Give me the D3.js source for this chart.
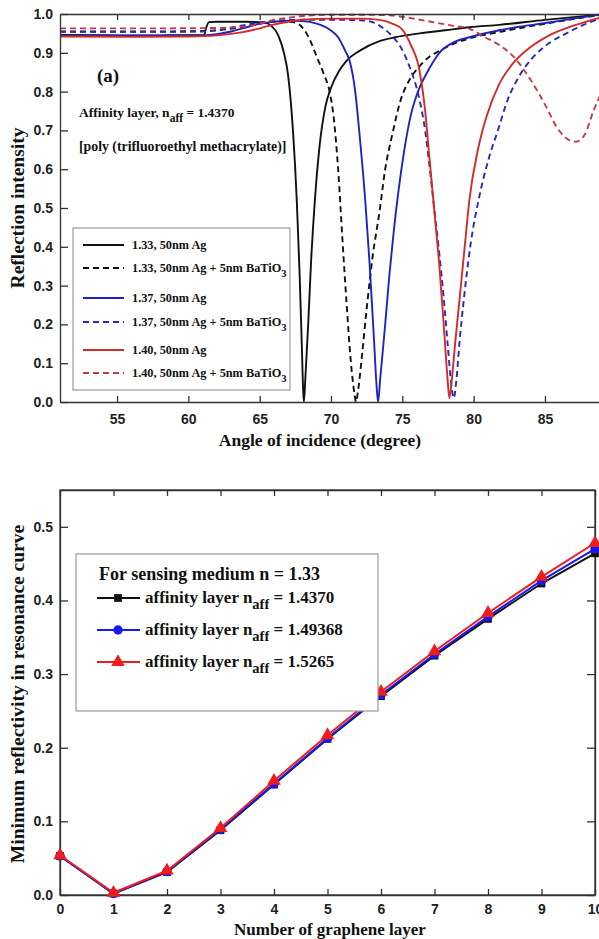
<!DOCTYPE html>
<html>
<head>
<meta charset="utf-8">
<script src="https://cdn.jsdelivr.net/npm/d3@7"></script>
<style>
  body { margin: 0; background: #fff; }
  svg { display: block; }
  .tick text { font-family: "Liberation Sans", Arial, sans-serif; font-weight: bold; font-size: 14px; fill: #222; }
  .serif { font-family: "Liberation Serif", "Times New Roman", serif; font-weight: bold; fill: #111; }
</style>
</head>
<body>
<svg width="599" height="939"></svg>
<script>
// ---- panel (a): reflection curves, [angle, R] ----
var s133 = [[51,0.946],[55,0.945],[58,0.945],[61.1,0.946],[61.25,0.965],[61.45,0.979],[62,0.98],[64,0.98],[65.3,0.978],[65.8,0.97],[66.3,0.945],[66.7,0.9],[67.0,0.84],[67.35,0.69],[67.6,0.52],[67.8,0.33],[67.95,0.15],[68.05,0.03],[68.1,0.0],[68.2,0.06],[68.4,0.2],[68.6,0.36],[68.87,0.52],[69.2,0.66],[69.6,0.76],[70.0,0.81],[70.6,0.855],[71.1,0.88],[72,0.905],[73.4,0.93],[74.5,0.94],[76.2,0.95],[78,0.958],[79.7,0.966],[81.8,0.972],[85,0.985],[89,0.999]];
var d133 = [[51,0.955],[58,0.955],[61,0.956],[62,0.958],[63,0.962],[64,0.968],[65,0.975],[66,0.98],[67,0.98],[67.5,0.978],[68,0.965],[68.5,0.935],[69,0.89],[69.5,0.845],[69.9,0.80],[70.2,0.73],[70.5,0.6],[70.8,0.42],[71.1,0.25],[71.4,0.1],[71.65,0.02],[71.75,0.0],[71.9,0.03],[72.2,0.13],[72.5,0.24],[72.9,0.37],[73.4,0.49],[73.8,0.6],[74.3,0.69],[74.9,0.78],[75.5,0.83],[76.2,0.865],[76.9,0.89],[77.6,0.905],[78.5,0.922],[80,0.94],[82,0.955],[85,0.975],[89,0.998]];
var s137 = [[51,0.944],[58,0.944],[61,0.945],[62,0.948],[63,0.955],[64,0.965],[65,0.975],[66,0.98],[67,0.983],[68,0.982],[69,0.975],[69.9,0.96],[70.5,0.94],[71.0,0.905],[71.3,0.88],[71.7,0.8],[72.0,0.69],[72.4,0.52],[72.7,0.36],[73.0,0.17],[73.2,0.04],[73.3,0.0],[73.45,0.06],[73.8,0.2],[74.1,0.33],[74.4,0.44],[75.1,0.64],[75.6,0.74],[76.0,0.79],[76.9,0.86],[77.6,0.9],[78.5,0.925],[79.7,0.94],[81.8,0.958],[83.2,0.967],[85.3,0.978],[87,0.988],[89,0.999]];
var d137 = [[51,0.954],[58,0.954],[61,0.955],[62,0.958],[63,0.965],[64,0.972],[65,0.978],[66,0.982],[68,0.985],[70,0.985],[72,0.984],[73,0.978],[73.6,0.965],[74.1,0.95],[74.6,0.93],[75.1,0.9],[75.5,0.865],[76.2,0.78],[76.6,0.7],[76.9,0.61],[77.2,0.51],[77.6,0.38],[77.9,0.27],[78.2,0.14],[78.45,0.04],[78.6,0.01],[78.8,0.06],[79.0,0.15],[79.3,0.26],[79.8,0.41],[80.4,0.53],[81.0,0.62],[81.7,0.7],[82.4,0.78],[83.2,0.84],[84.2,0.89],[85.3,0.925],[86.5,0.95],[87.7,0.972],[89,0.99]];
var s140 = [[51,0.942],[56,0.941],[60,0.942],[62,0.945],[63.6,0.952],[65,0.963],[65.9,0.972],[67,0.98],[68,0.985],[70,0.988],[72,0.988],[73.4,0.985],[74.3,0.975],[75.0,0.96],[75.6,0.92],[76.2,0.855],[76.6,0.75],[76.9,0.63],[77.3,0.47],[77.6,0.35],[77.9,0.2],[78.15,0.07],[78.3,0.01],[78.45,0.05],[78.7,0.15],[79.0,0.26],[79.4,0.41],[79.7,0.52],[80.3,0.65],[80.9,0.735],[81.8,0.82],[82.7,0.87],[84,0.915],[85.3,0.945],[87,0.97],[89,0.992]];
var d140 = [[51,0.963],[58,0.963],[62,0.964],[64,0.968],[65,0.975],[66,0.985],[67,0.99],[68,0.995],[70,0.998],[72,0.998],[74,0.997],[75.5,0.99],[77,0.98],[78.5,0.97],[79.7,0.962],[80.8,0.94],[81.8,0.92],[82.8,0.89],[84,0.83],[85.1,0.76],[85.8,0.71],[86.5,0.68],[87.2,0.671],[87.8,0.69],[88.4,0.75],[89,0.8]];

var seriesA = [
  {label: "1.33, 50nm Ag", sub: false, data: s133, color: "#111111", dash: null},
  {label: "1.33, 50nm Ag + 5nm BaTiO", sub: true, data: d133, color: "#111111", dash: "6,4"},
  {label: "1.37, 50nm Ag", sub: false, data: s137, color: "#2222c0", dash: null},
  {label: "1.37, 50nm Ag + 5nm BaTiO", sub: true, data: d137, color: "#2a2ab8", dash: "6,4"},
  {label: "1.40, 50nm Ag", sub: false, data: s140, color: "#d42a2a", dash: null},
  {label: "1.40, 50nm Ag + 5nm BaTiO", sub: true, data: d140, color: "#c43a48", dash: "6,4"}
];
var angleTicks = [55, 60, 65, 70, 75, 80, 85];
var reflTicks = [0, 0.1, 0.2, 0.3, 0.4, 0.5, 0.6, 0.7, 0.8, 0.9, 1.0];

// ---- panel (b): minimum reflectivity vs graphene layers ----
var layers = [0, 1, 2, 3, 4, 5, 6, 7, 8, 9, 10];
var r14370 = [0.053, 0.002, 0.031, 0.088, 0.150, 0.212, 0.270, 0.325, 0.375, 0.423, 0.464];
var r149368 = [0.053, 0.002, 0.032, 0.089, 0.151, 0.213, 0.272, 0.327, 0.378, 0.427, 0.470];
var r15265 = [0.054, 0.003, 0.033, 0.091, 0.155, 0.217, 0.276, 0.331, 0.383, 0.432, 0.478];
var naffLabels = ["1.4370", "1.49368", "1.5265"];
var layerTicks = [0, 1, 2, 3, 4, 5, 6, 7, 8, 9, 10];
var minTicks = [0, 0.1, 0.2, 0.3, 0.4, 0.5];

var svg = d3.select("svg");
svg.append("rect").attr("width", 599).attr("height", 939).attr("fill", "#fff");

// ================= panel (a) =================
var xA = d3.scaleLinear().domain([51, 89]).range([60, 602]);
var yA = d3.scaleLinear().domain([0, 1]).range([402, 14]);
var gA = svg.append("g");

svg.append("clipPath").attr("id", "clipA")
  .append("rect").attr("x", 60).attr("y", 13).attr("width", 545).attr("height", 390);

var lineA = d3.line()
  .x(function(d){ return xA(d[0]); })
  .y(function(d){ return yA(d[1]); })
  .curve(d3.curveMonotoneX);

var curves = gA.append("g").attr("clip-path", "url(#clipA)");
seriesA.forEach(function(s){
  curves.append("path")
    .attr("d", lineA(s.data))
    .attr("fill", "none")
    .attr("stroke", s.color)
    .attr("stroke-width", 1.9)
    .attr("stroke-dasharray", s.dash);
});

function styleAxis(g){
  g.select(".domain").attr("stroke", "#333").attr("stroke-width", 1.3);
  g.selectAll(".tick line").attr("stroke", "#333").attr("stroke-width", 1.3);
}

gA.append("g").attr("transform", "translate(0,402)")
  .call(d3.axisBottom(xA).tickValues(angleTicks).tickSize(-6).tickPadding(12).tickSizeOuter(0))
  .call(styleAxis);
gA.append("g").attr("transform", "translate(0,14)")
  .call(d3.axisTop(xA).tickValues(angleTicks).tickSize(-6).tickFormat("").tickSizeOuter(0))
  .call(styleAxis);
gA.append("g").attr("transform", "translate(60,0)")
  .call(d3.axisLeft(yA).tickValues(reflTicks).tickSize(-8).tickPadding(7).tickFormat(d3.format(".1f")).tickSizeOuter(0))
  .call(styleAxis);

gA.append("text").attr("class", "serif").attr("x", 320).attr("y", 446)
  .attr("text-anchor", "middle").attr("font-size", 17.5).text("Angle of incidence (degree)");
gA.append("text").attr("class", "serif").attr("transform", "translate(24,208) rotate(-90)")
  .attr("text-anchor", "middle").attr("font-size", 19.5).text("Reflection intensity");

gA.append("text").attr("class", "serif").attr("x", 97).attr("y", 82).attr("font-size", 19).text("(a)");
var aff = gA.append("text").attr("class", "serif").attr("x", 79).attr("y", 117).attr("font-size", 13.5);
aff.append("tspan").text("Affinity layer, n");
aff.append("tspan").attr("dy", 5).attr("font-size", 11.5).text("aff");
aff.append("tspan").attr("dy", -5).text(" = 1.4370");
gA.append("text").attr("class", "serif").attr("x", 79).attr("y", 151).attr("font-size", 13.8)
  .text("[poly (trifluoroethyl methacrylate)]");

// legend (a)
var legA = gA.append("g");
legA.append("rect").attr("x", 73).attr("y", 228).attr("width", 217).attr("height", 162)
  .attr("fill", "#fff").attr("stroke", "#999").attr("stroke-width", 1.2);
var legRowsA = [245, 268, 298, 322, 350, 373];
seriesA.forEach(function(s, i){
  var yy = legRowsA[i];
  legA.append("line").attr("x1", 83).attr("x2", 124).attr("y1", yy).attr("y2", yy)
    .attr("stroke", s.color).attr("stroke-width", 1.9).attr("stroke-dasharray", s.dash);
  var t = legA.append("text").attr("class", "serif").attr("x", 132).attr("y", yy + 4).attr("font-size", 12.3);
  t.append("tspan").text(s.label);
  if (s.sub) t.append("tspan").attr("dy", 5).attr("font-size", 10.5).text("3");
});

// ================= panel (b) =================
var xB = d3.scaleLinear().domain([0, 10]).range([60, 595]);
var yB = d3.scaleLinear().domain([0, 0.55]).range([895, 490]);
var gB = svg.append("g");

gB.append("rect").attr("x", 60).attr("y", 490).attr("width", 535).attr("height", 405)
  .attr("fill", "none").attr("stroke", "#333").attr("stroke-width", 1.3);

gB.append("g").attr("transform", "translate(0,895)")
  .call(d3.axisBottom(xB).tickValues(layerTicks).tickSize(-6).tickPadding(9).tickFormat(d3.format("d")).tickSizeOuter(0))
  .call(styleAxis);
gB.append("g").attr("transform", "translate(0,490)")
  .call(d3.axisTop(xB).tickValues(layerTicks).tickSize(-6).tickFormat("").tickSizeOuter(0))
  .call(styleAxis);
gB.append("g").attr("transform", "translate(60,0)")
  .call(d3.axisLeft(yB).tickValues(minTicks).tickSize(-8).tickPadding(7).tickFormat(d3.format(".1f")).tickSizeOuter(0))
  .call(styleAxis);
gB.append("g").attr("transform", "translate(595,0)")
  .call(d3.axisRight(yB).tickValues(minTicks).tickSize(-8).tickFormat("").tickSizeOuter(0))
  .call(styleAxis);

var seriesB = [
  {vals: r14370, color: "#111111", shape: d3.symbolSquare, size: 60},
  {vals: r149368, color: "#1818f0", shape: d3.symbolCircle, size: 70},
  {vals: r15265, color: "#ee1c1c", shape: d3.symbolTriangle, size: 80}
];
var lineB = d3.line()
  .x(function(d, i){ return xB(layers[i]); })
  .y(function(d){ return yB(d); });

seriesB.forEach(function(s){
  gB.append("path").attr("d", lineB(s.vals)).attr("fill", "none")
    .attr("stroke", s.color).attr("stroke-width", 2);
  gB.selectAll(null).data(s.vals).enter().append("path")
    .attr("d", d3.symbol().type(s.shape).size(s.size))
    .attr("transform", function(d, i){ return "translate(" + xB(layers[i]) + "," + yB(d) + ")"; })
    .attr("fill", s.color);
});

gB.append("text").attr("class", "serif").attr("x", 330).attr("y", 935)
  .attr("text-anchor", "middle").attr("font-size", 17).text("Number of graphene layer");
gB.append("text").attr("class", "serif").attr("transform", "translate(24,694) rotate(-90)")
  .attr("text-anchor", "middle").attr("font-size", 19.5).text("Minimum reflectivity in resonance curve");

// legend (b)
var legB = gB.append("g");
legB.append("rect").attr("x", 76).attr("y", 554).attr("width", 302).attr("height", 157)
  .attr("fill", "#fff").attr("stroke", "#999").attr("stroke-width", 1.2);
legB.append("text").attr("class", "serif").attr("x", 99).attr("y", 580).attr("font-size", 18)
  .text("For sensing medium n = 1.33");
var legRowsB = [598, 630, 662];
seriesB.forEach(function(s, i){
  var yy = legRowsB[i];
  legB.append("line").attr("x1", 97).attr("x2", 140).attr("y1", yy).attr("y2", yy)
    .attr("stroke", s.color).attr("stroke-width", 2);
  legB.append("path").attr("d", d3.symbol().type(s.shape).size(s.size))
    .attr("transform", "translate(118," + yy + ")").attr("fill", s.color);
  var t = legB.append("text").attr("class", "serif").attr("x", 145).attr("y", yy + 5).attr("font-size", 17);
  t.append("tspan").text("affinity layer n");
  t.append("tspan").attr("dy", 6).attr("font-size", 14.5).text("aff");
  t.append("tspan").attr("dy", -6).text(" = " + naffLabels[i]);
});
</script>
</body>
</html>
